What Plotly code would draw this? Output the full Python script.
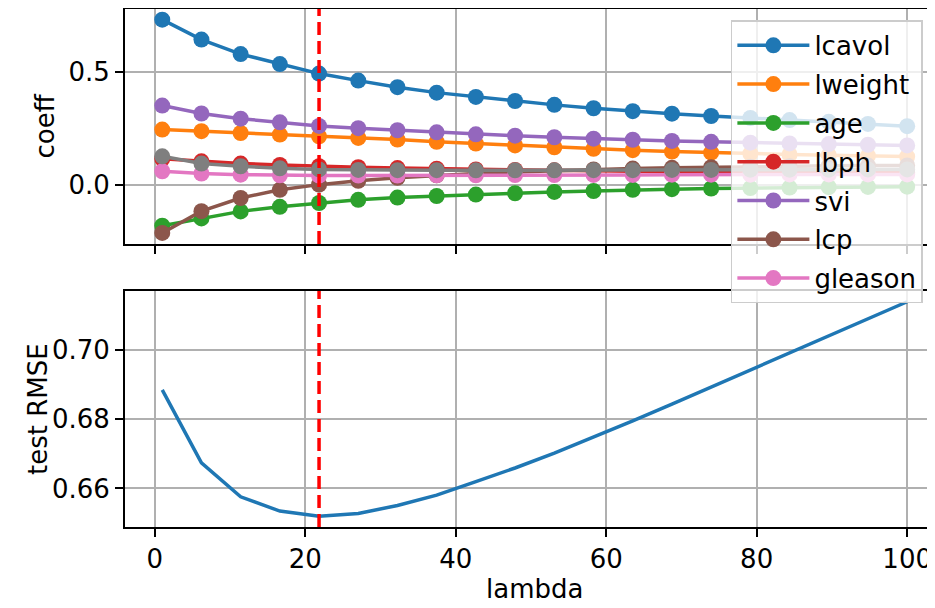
import plotly.graph_objects as go
from plotly.subplots import make_subplots

# lambda grid
lambdas = [1.00, 6.21, 11.42, 16.63, 21.84, 27.05, 32.26, 37.47, 42.68, 47.89,
           53.11, 58.32, 63.53, 68.74, 73.95, 79.16, 84.37, 89.58, 94.79, 100.00]

# coefficient paths
lcavol = [0.729, 0.641, 0.577, 0.533, 0.491, 0.460, 0.431, 0.407, 0.388, 0.370,
          0.353, 0.338, 0.325, 0.314, 0.304, 0.295, 0.286, 0.278, 0.269, 0.259]
lweight = [0.244, 0.237, 0.229, 0.222, 0.214, 0.207, 0.200, 0.190, 0.182, 0.174,
           0.166, 0.159, 0.153, 0.147, 0.142, 0.138, 0.134, 0.131, 0.128, 0.125]
age = [-0.180, -0.148, -0.117, -0.097, -0.080, -0.066, -0.056, -0.049, -0.043, -0.037,
       -0.031, -0.027, -0.022, -0.019, -0.016, -0.014, -0.012, -0.010, -0.009, -0.008]
lbph = [0.115, 0.104, 0.094, 0.088, 0.082, 0.078, 0.074, 0.071, 0.068, 0.066,
        0.064, 0.062, 0.060, 0.059, 0.058, 0.057, 0.056, 0.055, 0.054, 0.053]
svi = [0.350, 0.315, 0.292, 0.276, 0.260, 0.250, 0.241, 0.232, 0.223, 0.217,
       0.210, 0.204, 0.199, 0.194, 0.190, 0.186, 0.183, 0.180, 0.177, 0.174]
lcp = [-0.212, -0.116, -0.058, -0.022, 0.001, 0.018, 0.031, 0.042, 0.050, 0.057,
       0.063, 0.068, 0.072, 0.075, 0.078, 0.080, 0.082, 0.084, 0.085, 0.086]
gleason = [0.060, 0.050, 0.045, 0.042, 0.041, 0.041, 0.041, 0.042, 0.042, 0.043,
           0.043, 0.044, 0.044, 0.045, 0.045, 0.045, 0.046, 0.046, 0.046, 0.046]
pgg45 = [0.126, 0.094, 0.082, 0.073, 0.068, 0.066, 0.065, 0.065, 0.064, 0.064,
         0.064, 0.065, 0.065, 0.066, 0.066, 0.067, 0.067, 0.067, 0.068, 0.068]

# test error
test_rmse = [0.6884, 0.6674, 0.6576, 0.6535, 0.6520, 0.6528, 0.6551, 0.6581, 0.6620, 0.6659,
             0.6702, 0.6748, 0.6795, 0.6843, 0.6892, 0.6942, 0.6991, 0.7040, 0.7089, 0.7138]

feature_names = ["lcavol", "lweight", "age", "lbph", "svi", "lcp", "gleason", "pgg45"]
feature_values = [lcavol, lweight, age, lbph, svi, lcp, gleason, pgg45]
colors = ["#1f77b4", "#ff7f0e", "#2ca02c", "#d62728", "#9467bd", "#8c564b", "#e377c2", "#7f7f7f"]

FONT = "DejaVu Sans"
FS = 26

fig = make_subplots(rows=2, cols=1, shared_xaxes=False, vertical_spacing=0.0)

for name, vals, col in zip(feature_names, feature_values, colors):
    fig.add_trace(go.Scatter(
        x=lambdas, y=vals, mode="lines+markers", name=name,
        legendgroup=name,
        showlegend=(name != "pgg45"),
        line=dict(color=col, width=3.5),
        marker=dict(color=col, size=16),
    ), row=1, col=1)

fig.add_trace(go.Scatter(
    x=lambdas, y=test_rmse, mode="lines", showlegend=False,
    line=dict(color="#1f77b4", width=3.5),
), row=2, col=1)

best_lambda = lambdas[test_rmse.index(min(test_rmse))]
for xr_, yr_ in [("x", "y domain"), ("x2", "y2 domain")]:
    fig.add_shape(type="line", xref=xr_, yref=yr_,
                  x0=best_lambda, x1=best_lambda, y0=0, y1=1,
                  line=dict(color="red", width=3.5, dash="13px,6px"), layer="above")

axis_common = dict(
    showline=True, linecolor="black", linewidth=2, mirror=True,
    ticks="outside", ticklen=8, tickwidth=2, tickcolor="black",
    showgrid=True, gridcolor="#b0b0b0", gridwidth=2,
    zeroline=False, automargin=False,
    tickfont=dict(family=FONT, size=FS, color="black"),
)

xr = [-3.95, 103.7]
fig.update_xaxes(range=xr, tickvals=[0, 20, 40, 60, 80, 100], **axis_common)
fig.update_xaxes(showticklabels=False, row=1, col=1)

fig.update_yaxes(**axis_common)
fig.update_yaxes(range=[-0.261, 0.776], tickvals=[0.0, 0.5], tickformat=".1f", row=1, col=1)
fig.update_yaxes(range=[0.6489, 0.7169], tickvals=[0.66, 0.68, 0.70], tickformat=".2f", row=2, col=1)

fig.update_layout(
    xaxis=dict(domain=[0, 1]),
    xaxis2=dict(domain=[0, 1]),
    yaxis=dict(domain=[0.5463, 1.0]),
    yaxis2=dict(domain=[0.0, 0.4556]),
)

title_font = dict(family=FONT, size=FS, color="black")
fig.add_annotation(text="coeff", xref="paper", yref="paper", x=0, y=(0.5463 + 1.0) / 2,
                   xshift=-80, textangle=-90, showarrow=False, font=title_font,
                   xanchor="center", yanchor="middle")
fig.add_annotation(text="test RMSE", xref="paper", yref="paper", x=0, y=0.4556 / 2,
                   xshift=-87, textangle=-90, showarrow=False, font=title_font,
                   xanchor="center", yanchor="middle")
fig.add_annotation(text="lambda", xref="paper", yref="paper", x=0.5057, y=0,
                   yshift=-62, showarrow=False, font=title_font,
                   xanchor="center", yanchor="middle")

# the page body has an 8px margin; the figure is sized/offset to compensate
fig.update_layout(
    width=927, height=600,
    margin=dict(l=117, r=0, t=1, b=81),
    paper_bgcolor="white", plot_bgcolor="white",
    font=dict(family=FONT, size=FS, color="black"),
    legend=dict(
        x=0.748, y=0.978, xanchor="left", yanchor="top",
        bgcolor="rgba(255,255,255,0.8)", bordercolor="#cccccc", borderwidth=1.5,
        font=dict(family=FONT, size=FS, color="black"),
        tracegroupgap=2, itemwidth=72,
        entrywidth=230, entrywidthmode="pixels",
    ),
)

fig.write_html("out.html")
